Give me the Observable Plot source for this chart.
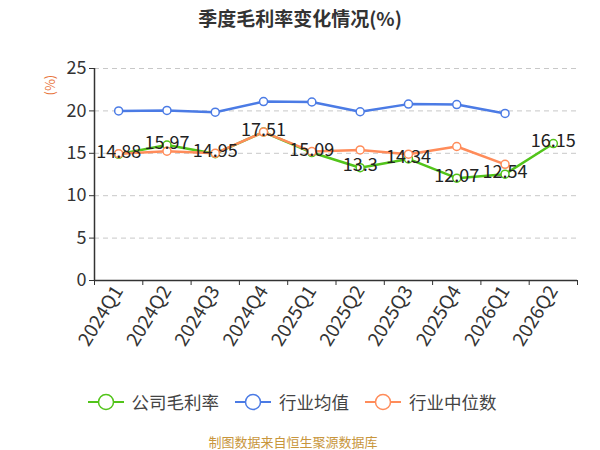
<!DOCTYPE html>
<html>
<head>
<meta charset="utf-8">
<script src="https://cdn.jsdelivr.net/npm/d3@7"></script>
<script src="https://cdn.jsdelivr.net/npm/@observablehq/plot@0.6"></script>
<style>
  body { margin: 0; background: #fff; font-family: "Noto Sans CJK SC", "Noto Sans", sans-serif; }
  #wrap { width: 600px; height: 450px; position: relative; }
  #title { height: 40px; line-height: 36px; text-align: center; font-size: 19px; font-weight: bold; color: #333; }
  #legend { position: absolute; top: 389px; left: 0; width: 584px; display: flex; justify-content: center; gap: 16px; font-size: 17.5px; color: #444; }
  #legend .item { display: flex; align-items: center; gap: 8px; }
  #caption { position: absolute; top: 432px; left: 0; width: 586px; text-align: center; font-size: 13px; color: #c8963c; }
</style>
</head>
<body>
<div id="wrap">
  <div id="title">季度毛利率变化情况(%)</div>
  <div id="chart"></div>
  <div id="legend"></div>
  <div id="caption">制图数据来自恒生聚源数据库</div>
</div>
<script>
const categories = ["2024Q1","2024Q2","2024Q3","2024Q4","2025Q1","2025Q2","2025Q3","2025Q4","2026Q1","2026Q2"];
const companyValues = [14.88, 15.97, 14.95, 17.51, 15.09, 13.3, 14.34, 12.07, 12.54, 16.15];
const industryMean = [20.0, 20.05, 19.85, 21.1, 21.05, 19.9, 20.8, 20.75, 19.7, null];
const industryMedian = [14.95, 15.25, 15.0, 17.5, 15.2, 15.4, 14.9, 15.8, 13.7, null];
const seriesNames = ["公司毛利率", "行业均值", "行业中位数"];
const colors = ["#52c41a", "#4b7be5", "#ff8c5a"];
const yTicks = [0, 5, 10, 15, 20, 25];

const rows = [];
[companyValues, industryMean, industryMedian].forEach((vals, s) => {
  vals.forEach((v, i) => { if (v != null) rows.push({series: seriesNames[s], i, v}); });
});
const company = rows.filter(d => d.series === seriesNames[0]);
const idx = categories.map((_, i) => i);
const bounds = d3.range(-0.5, categories.length, 1);

const chart = Plot.plot({
  width: 600,
  height: 340,
  marginTop: 28,
  marginBottom: 100,
  marginLeft: 94,
  marginRight: 23,
  style: {fontFamily: '"Noto Sans CJK SC", "Noto Sans", sans-serif', overflow: "visible"},
  x: {type: "linear", domain: [-0.5, categories.length - 0.5]},
  y: {domain: [0, 25]},
  color: {domain: seriesNames, range: colors},
  marks: [
    Plot.gridY(yTicks.filter(t => t > 0), {stroke: "#c8c8c8", strokeOpacity: 1, strokeDasharray: "5,4"}),
    Plot.axisY(yTicks, {tickSize: 5, fontSize: 18, fill: "#333", stroke: "#333", label: null, tickPadding: 3}),
    Plot.axisX(bounds, {tickSize: 5, tickFormat: () => "", stroke: "#333", label: null}),
    Plot.axisX(idx, {tickSize: 0, tickFormat: i => categories[i], tickRotate: -58, fontSize: 19, fill: "#333", label: null, tickPadding: 7}),
    Plot.ruleY([0], {stroke: "#333", strokeWidth: 1.5}),
    Plot.ruleX([-0.5], {stroke: "#333", strokeWidth: 1.5}),
    Plot.line(rows, {x: "i", y: "v", stroke: "series", z: "series", strokeWidth: 2.5}),
    Plot.dot(rows, {x: "i", y: "v", stroke: "series", fill: "white", r: 4, strokeWidth: 1.5}),
    Plot.text(company, {x: "i", y: "v", text: d => String(d.v), fontSize: 18, fill: "#222", dy: -2}),
    Plot.text(["(%)"], {frameAnchor: "top-left", dx: -49, dy: 27, rotate: -90, fill: "#e8743b", fontSize: 13})
  ]
});
document.getElementById("chart").appendChild(chart);

const legend = document.getElementById("legend");
seriesNames.forEach((name, s) => {
  const item = document.createElement("div");
  item.className = "item";
  item.innerHTML = `<svg width="36" height="18"><line x1="0" x2="36" y1="9" y2="9" stroke="${colors[s]}" stroke-width="2"/><circle cx="18" cy="9" r="7.5" fill="white" stroke="${colors[s]}" stroke-width="1.5"/></svg><span>${name}</span>`;
  legend.appendChild(item);
});
</script>
</body>
</html>
